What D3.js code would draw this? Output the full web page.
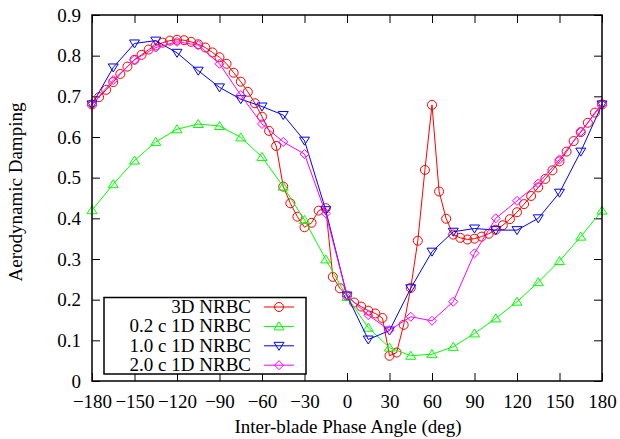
<!DOCTYPE html>
<head>
  <meta charset="utf-8">
  <script src="https://d3js.org/d3.v7.min.js"></script>
  <style>
    body { margin:0; background:white; }
    svg text { font-family: "Liberation Serif", "DejaVu Serif", serif; }
  </style>
</head>
<body>
<script>
// angles (deg) and damping values
var angles3D = d3.range(-180, 181, 5);
var damp3D = [0.68, 0.698, 0.716, 0.735, 0.755, 0.773, 0.79, 0.802, 0.815, 0.825, 0.832, 0.837,
  0.839, 0.838, 0.834, 0.828, 0.82, 0.808, 0.796, 0.78, 0.758, 0.736, 0.711, 0.683, 0.65,
  0.615, 0.578, 0.478, 0.437, 0.404, 0.378, 0.389, 0.419, 0.425, 0.256, 0.228, 0.21,
  0.193, 0.183, 0.173, 0.166, 0.155, 0.062, 0.07, 0.138, 0.229, 0.345, 0.519, 0.679,
  0.466, 0.399, 0.36, 0.352, 0.348, 0.35, 0.355, 0.362, 0.372, 0.383, 0.398, 0.415,
  0.435, 0.455, 0.476, 0.497, 0.518, 0.54, 0.564, 0.59, 0.612, 0.635, 0.66, 0.68];

var angles1D = d3.range(-180, 181, 15);
var damp02c = [0.42, 0.484, 0.542, 0.588, 0.619, 0.632, 0.627, 0.599, 0.551, 0.478, 0.396,
  0.299, 0.207, 0.131, 0.082, 0.062, 0.066, 0.084, 0.117, 0.154, 0.195, 0.243, 0.295, 0.355, 0.419];
var damp10c = [0.68, 0.771, 0.83, 0.837, 0.807, 0.763, 0.722, 0.693, 0.675, 0.654, 0.591,
  0.42, 0.21, 0.102, 0.124, 0.228, 0.318, 0.367, 0.375, 0.371, 0.371, 0.4, 0.463, 0.564, 0.68];
var damp20c = [0.68, 0.74, 0.79, 0.82, 0.834, 0.826, 0.78, 0.703, 0.632, 0.588, 0.558,
  0.412, 0.21, 0.162, 0.125, 0.158, 0.148, 0.195, 0.314, 0.4, 0.443, 0.486, 0.545, 0.613, 0.68];

var seriesNames = ["3D NRBC", "0.2 c 1D NRBC", "1.0 c 1D NRBC", "2.0 c 1D NRBC"];
var xTicks = d3.range(-180, 181, 30);
var yTicks = d3.range(0, 0.91, 0.1);

var series = [
  {name: seriesNames[0], x: angles3D, y: damp3D, color: "#ff0000", sym: "circle"},
  {name: seriesNames[1], x: angles1D, y: damp02c, color: "#00ff00", sym: "up"},
  {name: seriesNames[2], x: angles1D, y: damp10c, color: "#0000ff", sym: "down"},
  {name: seriesNames[3], x: angles1D, y: damp20c, color: "#ff00ff", sym: "diamond"}
];

var W = 620, H = 439;
var L = 92, R = 602, T = 15, B = 381;
var FS = "19px";

var svg = d3.select("body").append("svg")
  .attr("width", W).attr("height", H);

var x = d3.scaleLinear().domain([-180, 180]).range([L, R]);
var y = d3.scaleLinear().domain([0, 0.9]).range([B, T]);

function marker(g, sym, color) {
  var p;
  if (sym === "circle") {
    g.append("circle").attr("r", 4.5).attr("fill", "none").attr("stroke", color).attr("stroke-width", 1);
    return;
  }
  if (sym === "up") p = "M0,-4.5L5,3.5L-5,3.5Z";
  if (sym === "down") p = "M0,4.5L5,-3.5L-5,-3.5Z";
  if (sym === "diamond") p = "M0,-4.5L4.5,0L0,4.5L-4.5,0Z";
  g.append("path").attr("d", p).attr("fill", "none").attr("stroke", color).attr("stroke-width", 1);
}

function styleAxis(g) {
  g.select(".domain").remove();
  g.attr("font-family", "Liberation Serif, DejaVu Serif, serif").attr("font-size", FS);
  g.selectAll(".tick line").attr("stroke", "#000").attr("stroke-width", 1);
  g.selectAll(".tick text").attr("fill", "#000");
}

// axes: ticks inside on all four sides
var fmtY = function(d) { return d === 0 ? "0" : d3.format(".1f")(d); };
svg.append("g").attr("transform", "translate(0," + B + ")")
  .call(d3.axisBottom(x).tickValues(xTicks).tickSize(-8).tickPadding(14))
  .call(styleAxis);
svg.append("g").attr("transform", "translate(0," + T + ")")
  .call(d3.axisTop(x).tickValues(xTicks).tickSize(-8).tickFormat(""))
  .call(styleAxis);
svg.append("g").attr("transform", "translate(" + L + ",0)")
  .call(d3.axisLeft(y).tickValues(yTicks).tickSize(-8).tickPadding(11).tickFormat(fmtY))
  .call(styleAxis);
svg.append("g").attr("transform", "translate(" + R + ",0)")
  .call(d3.axisRight(y).tickValues(yTicks).tickSize(-8).tickFormat(""))
  .call(styleAxis);

// series
var line = d3.line();
series.forEach(function(s) {
  var pts = s.x.map(function(a, i) { return [x(a), y(s.y[i])]; });
  svg.append("path").attr("d", line(pts))
    .attr("fill", "none").attr("stroke", s.color).attr("stroke-width", 1);
  pts.forEach(function(p) {
    marker(svg.append("g").attr("transform", "translate(" + p[0] + "," + p[1] + ")"), s.sym, s.color);
  });
});

// frame
svg.append("rect").attr("x", L).attr("y", T).attr("width", R - L).attr("height", B - T)
  .attr("fill", "none").attr("stroke", "#000").attr("stroke-width", 1.5);

// legend
var lg = svg.append("g");
lg.append("rect").attr("x", 104).attr("y", 297.5).attr("width", 202).attr("height", 76.5)
  .attr("fill", "white").attr("stroke", "#000").attr("stroke-width", 1.5);
series.forEach(function(s, i) {
  var yy = 307 + i * 19.4;
  lg.append("text").attr("x", 251).attr("y", yy + 6).attr("text-anchor", "end")
    .attr("font-size", FS).text(s.name);
  lg.append("line").attr("x1", 264).attr("x2", 294).attr("y1", yy).attr("y2", yy)
    .attr("stroke", s.color).attr("stroke-width", 1);
  marker(lg.append("g").attr("transform", "translate(279," + yy + ")"), s.sym, s.color);
});

// axis titles
svg.append("text").attr("x", 348).attr("y", 433).attr("text-anchor", "middle")
  .attr("font-size", FS).text("Inter-blade Phase Angle (deg)");
svg.append("text").attr("transform", "translate(22,192) rotate(-90)")
  .attr("text-anchor", "middle").attr("font-size", FS).text("Aerodynamic Damping");
</script>
</body>
